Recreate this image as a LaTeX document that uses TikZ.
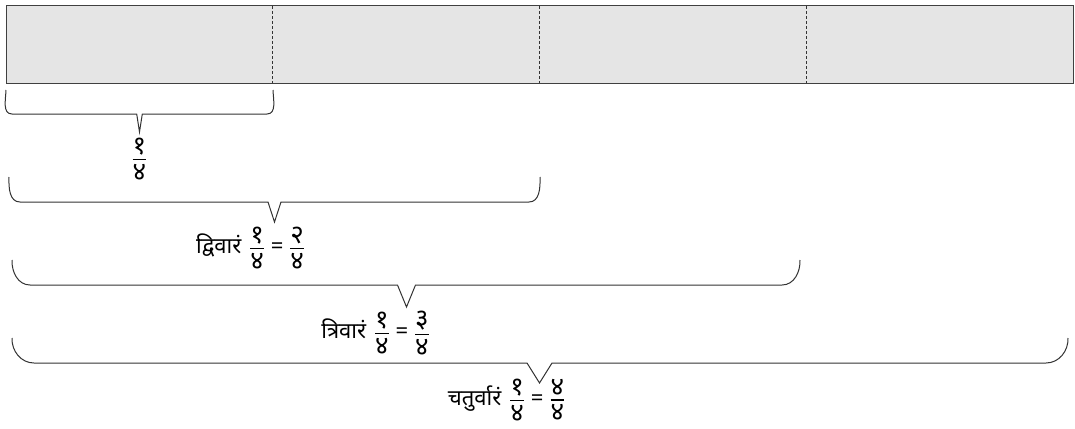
\documentclass[tikz,border=0pt]{standalone}
\usepackage{fontspec}
\newfontfamily\dev[Script=Devanagari]{Noto Sans}
\newcommand\fr[2]{\ensuremath{\vcenter{\offinterlineskip\halign{\hfil##\hfil\cr
  \fontsize{26}{26}\selectfont#1\cr\noalign{\kern4pt\hrule height 1.2pt\kern4pt}
  \fontsize{26}{26}\selectfont#2\cr}}}}
\newcommand\eqs{\hspace{7pt}=\hspace{7pt}}
\tikzset{
  bar/.style={draw=black!75, line width=1pt, fill=black!10},
  divider/.style={draw=black!80, dashed, dash pattern=on 3pt off 2pt, line width=0.9pt},
  brace/.style={draw=black!80, line width=1pt, line join=miter},
  lbl/.style={font=\dev\fontsize{22}{22}\selectfont, inner sep=0pt}
}
\newcommand\bracepath[8]{%
 \draw[brace] (#1,#3) to[out=-92,in=180] (#1+#5,#4) -- (#6-#7,#4) -- (#6,#8) -- (#6+#7,#4) -- (#2-#5,#4) to[out=0,in=-88] (#2,#3);}
\begin{document}
\begin{tikzpicture}[x=1pt,y=-1pt]
\useasboundingbox (0,0) rectangle (1075,428);
\path[bar] (6,6) rectangle (1073,83);
\coordinate (d1t) at (272.75,6); \coordinate (d1b) at (272.75,83);
\coordinate (d2t) at (539.5,6); \coordinate (d2b) at (539.5,83);
\coordinate (d3t) at (806.25,6); \coordinate (d3b) at (806.25,83);
\draw[divider] (d1t) -- (d1b);
\draw[divider] (d2t) -- (d2b);
\draw[divider] (d3t) -- (d3b);
\bracepath{6}{273}{90}{114}{6}{139.5}{2.8}{132}
\bracepath{9}{540}{177}{202}{11}{274.5}{6.5}{222}
\bracepath{12}{800}{260}{285}{18}{406.5}{9}{307}
\bracepath{12}{1068}{338}{363}{22}{539.5}{12.5}{383}
\node[lbl] (l1) at (139.5,159) {\fr{१}{४}};
\node[lbl] (l2) at (250,248) {द्विवारं\hspace{9pt}\fr{१}{४}\eqs\fr{२}{४}};
\node[lbl] (l3) at (375,333) {त्रिवारं\hspace{9pt}\fr{१}{४}\eqs\fr{३}{४}};
\node[lbl] (l4) at (506,400) {चतुर्वारं\hspace{9pt}\fr{१}{४}\eqs\fr{४}{४}};
\end{tikzpicture}
\end{document}
